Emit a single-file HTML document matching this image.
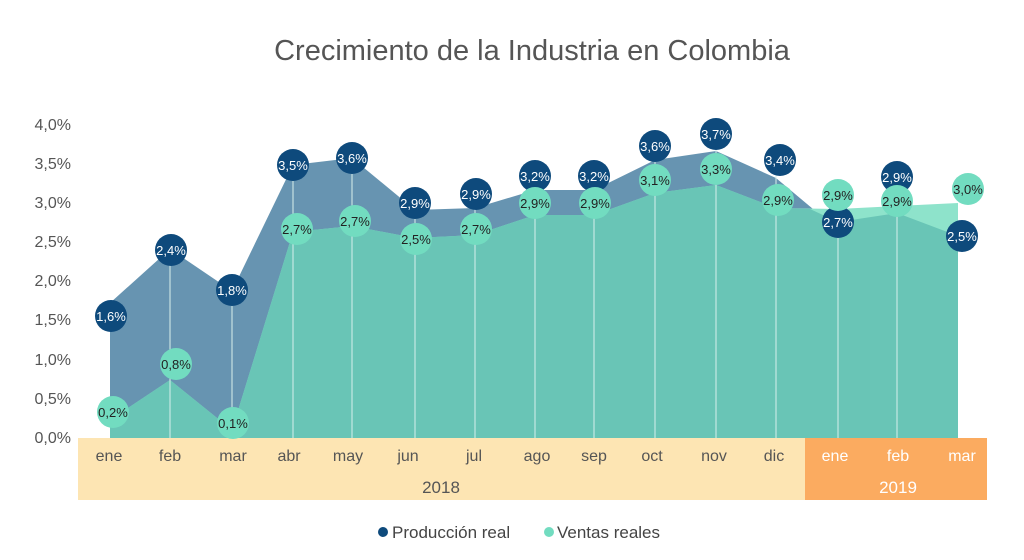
<!DOCTYPE html><html><head><meta charset="utf-8"><style>body{margin:0;background:#fff}svg{display:block;font-family:"Liberation Sans",sans-serif}</style></head><body>
<svg width="1024" height="560" viewBox="0 0 1024 560">
<text x="532" y="60" text-anchor="middle" font-size="29" fill="#555">Crecimiento de la Industria en Colombia</text>
<g font-size="16" fill="#555" text-anchor="end">
<text x="71" y="130">4,0%</text><text x="71" y="169">3,5%</text><text x="71" y="208">3,0%</text><text x="71" y="247">2,5%</text><text x="71" y="286">2,0%</text><text x="71" y="325">1,5%</text><text x="71" y="365">1,0%</text><text x="71" y="404">0,5%</text><text x="71" y="443">0,0%</text></g>
<polygon fill="#6794b1" points="110,438 110,303 170,249 232,291 293,165 352,158 415,210 475,208 535,190 594,190 655,160 716,151 776,178 813,209 838,222 897,213 958,236 958,438"/>
<polygon fill="#8ee3cb" points="110,438 110,420 170,380 232,430 293,232 352,226 415,238 475,235 535,215 594,215 655,193 716,185 776,208 838,209 897,206 958,203 958,438"/>
<polygon fill="#69c5b6" points="110,438 110,420 170,380 232,430 293,232 352,226 415,238 475,235 535,215 594,215 655,193 716,185 776,208 810,209 838,222 897,213 958,236 958,438"/>
<g stroke="#d8f0ec" stroke-width="1">
<line x1="170" y1="250" x2="170" y2="438"/><line x1="232" y1="291" x2="232" y2="438"/><line x1="293" y1="165" x2="293" y2="438"/><line x1="352" y1="158" x2="352" y2="438"/><line x1="415" y1="203" x2="415" y2="438"/><line x1="475" y1="194" x2="475" y2="438"/><line x1="535" y1="176" x2="535" y2="438"/><line x1="594" y1="176" x2="594" y2="438"/><line x1="655" y1="146" x2="655" y2="438"/><line x1="716" y1="133" x2="716" y2="438"/><line x1="776" y1="159" x2="776" y2="438"/><line x1="838" y1="222" x2="838" y2="438"/><line x1="897" y1="176" x2="897" y2="438"/></g>
<rect x="78" y="438" width="727" height="62" fill="#fde5b3"/><rect x="805" y="438" width="182" height="62" fill="#fbab60"/>
<g font-size="16" fill="#555" text-anchor="middle">
<text x="109" y="461">ene</text><text x="170" y="461">feb</text><text x="233" y="461">mar</text><text x="289" y="461">abr</text><text x="348" y="461">may</text><text x="408" y="461">jun</text><text x="474" y="461">jul</text><text x="537" y="461">ago</text><text x="594" y="461">sep</text><text x="652" y="461">oct</text><text x="714" y="461">nov</text><text x="774" y="461">dic</text>
<text x="441" y="493" font-size="17">2018</text>
<g fill="#fff"><text x="835" y="461">ene</text><text x="898" y="461">feb</text><text x="962" y="461">mar</text><text x="898" y="493" font-size="17">2019</text></g></g>
<g font-size="13" text-anchor="middle">
<g fill="#0e4a7c">
<circle cx="111" cy="316" r="16"/><circle cx="171" cy="250" r="16"/><circle cx="232" cy="290" r="16"/><circle cx="293" cy="165" r="16"/><circle cx="352" cy="158" r="16"/><circle cx="415" cy="203" r="16"/><circle cx="476" cy="194" r="16"/><circle cx="535" cy="176" r="16"/><circle cx="594" cy="176" r="16"/><circle cx="655" cy="146" r="16"/><circle cx="716" cy="134" r="16"/><circle cx="780" cy="160" r="16"/><circle cx="838" cy="222" r="16"/><circle cx="897" cy="177" r="16"/><circle cx="962" cy="236" r="16"/></g>
<g fill="#fff">
<text x="111" y="321">1,6%</text><text x="171" y="255">2,4%</text><text x="232" y="295">1,8%</text><text x="293" y="170">3,5%</text><text x="352" y="163">3,6%</text><text x="415" y="208">2,9%</text><text x="476" y="199">2,9%</text><text x="535" y="181">3,2%</text><text x="594" y="181">3,2%</text><text x="655" y="151">3,6%</text><text x="716" y="139">3,7%</text><text x="780" y="165">3,4%</text><text x="838" y="227">2,7%</text><text x="897" y="182">2,9%</text><text x="962" y="241">2,5%</text></g>
<g fill="#72dcc0">
<circle cx="113" cy="412" r="16"/><circle cx="176" cy="364" r="16"/><circle cx="233" cy="423" r="16"/><circle cx="297" cy="229" r="16"/><circle cx="355" cy="221" r="16"/><circle cx="416" cy="239" r="16"/><circle cx="476" cy="229" r="16"/><circle cx="535" cy="203" r="16"/><circle cx="595" cy="203" r="16"/><circle cx="655" cy="180" r="16"/><circle cx="716" cy="169" r="16"/><circle cx="778" cy="200" r="16"/><circle cx="838" cy="195" r="16"/><circle cx="897" cy="201" r="16"/><circle cx="968" cy="189" r="16"/></g>
<g fill="#222">
<text x="113" y="417">0,2%</text><text x="176" y="369">0,8%</text><text x="233" y="428">0,1%</text><text x="297" y="234">2,7%</text><text x="355" y="226">2,7%</text><text x="416" y="244">2,5%</text><text x="476" y="234">2,7%</text><text x="535" y="208">2,9%</text><text x="595" y="208">2,9%</text><text x="655" y="185">3,1%</text><text x="716" y="174">3,3%</text><text x="778" y="205">2,9%</text><text x="838" y="200">2,9%</text><text x="897" y="206">2,9%</text><text x="968" y="194">3,0%</text></g></g>
<circle cx="383" cy="532" r="5" fill="#0e4a7c"/><text x="392" y="538" font-size="17" fill="#444">Producción real</text>
<circle cx="549" cy="532" r="5" fill="#72dcc0"/><text x="557" y="538" font-size="17" fill="#444">Ventas reales</text>
</svg></body></html>
